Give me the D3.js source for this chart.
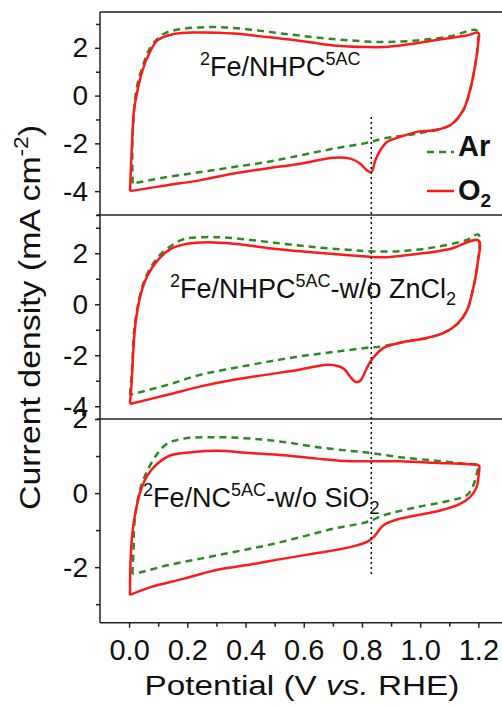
<!DOCTYPE html>
<html>
<head>
<meta charset="utf-8">
<script src="https://cdn.jsdelivr.net/npm/d3@7"></script>
<style>
  html, body { margin: 0; padding: 0; background: #ffffff; }
  svg { display: block; font-family: "Liberation Sans", Arial, sans-serif; }
</style>
</head>
<body>
<svg id="chart" width="502" height="706"></svg>
<script>
// ---------- data (potential V vs RHE, current density mA cm^-2) ----------
const potentialTicks = [0.0, 0.2, 0.4, 0.6, 0.8, 1.0, 1.2];
const potentialMinor = [0.1, 0.3, 0.5, 0.7, 0.9, 1.1];
const refPotential = 0.832;

const panelNames = ["2Fe/NHPC5AC", "2Fe/NHPC5AC-w/o ZnCl2", "2Fe/NC5AC-w/o SiO2"];
const panelDomains = [[-5, 3.5], [-4.5, 3.5], [-3.5, 2]];
const panelMajorTicks = [[-4, -2, 0, 2], [-4, -2, 0, 2], [-2, 0, 2]];
const panelMinorTicks = [[-5, -3, -1, 1, 3], [-3, -1, 1, 3], [-3, -1, 1]];

const fe5acO2 = [[0.003,-4.0],[0.009,-2.29],[0.017,-0.6],[0.029,0.22],[0.046,1.06],[0.069,1.76],[0.097,2.31],[0.143,2.55],[0.223,2.64],[0.36,2.6],[0.474,2.45],[0.589,2.29],[0.703,2.10],[0.817,2.03],[0.874,2.03],[0.931,2.1],[1.046,2.31],[1.16,2.52],[1.2,2.62],[1.199,2.17],[1.188,1.2],[1.171,0.22],[1.148,-0.61],[1.103,-1.24],[1.046,-1.45],[0.989,-1.52],[0.931,-1.73],[0.886,-1.94],[0.863,-2.29],[0.846,-2.71],[0.832,-3.2],[0.817,-3.13],[0.794,-2.85],[0.76,-2.64],[0.703,-2.6],[0.589,-2.85],[0.474,-3.05],[0.36,-3.26],[0.246,-3.54],[0.132,-3.75],[0.003,-4.0]];
const fe5acAr = [[0.012,-3.68],[0.011,-2.15],[0.017,-0.6],[0.029,0.5],[0.046,1.2],[0.074,2.03],[0.12,2.59],[0.189,2.8],[0.303,2.87],[0.417,2.76],[0.531,2.59],[0.646,2.43],[0.76,2.31],[0.874,2.24],[0.989,2.31],[1.103,2.48],[1.194,2.73],[1.198,2.17],[1.188,1.2],[1.171,0.22],[1.148,-0.61],[1.103,-1.24],[0.989,-1.59],[0.874,-1.8],[0.817,-1.98],[0.703,-2.22],[0.589,-2.5],[0.474,-2.78],[0.36,-2.99],[0.246,-3.2],[0.132,-3.41],[0.012,-3.68]];

const znO2 = [[0.003,-3.91],[0.009,-3.03],[0.015,-1.71],[0.023,-0.66],[0.04,0.39],[0.063,1.12],[0.097,1.71],[0.143,2.17],[0.2,2.37],[0.269,2.43],[0.36,2.37],[0.474,2.21],[0.589,2.08],[0.703,1.97],[0.817,1.87],[0.874,1.84],[0.989,1.97],[1.103,2.17],[1.2,2.5],[1.197,1.58],[1.18,0.52],[1.16,-0.26],[1.126,-0.79],[1.081,-1.12],[1.023,-1.32],[0.931,-1.51],[0.874,-1.71],[0.832,-2.2],[0.817,-2.5],[0.794,-3.0],[0.78,-3.05],[0.76,-2.85],[0.74,-2.55],[0.72,-2.43],[0.68,-2.37],[0.589,-2.56],[0.474,-2.76],[0.36,-2.96],[0.246,-3.22],[0.132,-3.55],[0.003,-3.91]];
const znAr = [[0.003,-3.55],[0.011,-2.37],[0.017,-1.05],[0.029,-0.13],[0.046,0.72],[0.074,1.44],[0.109,1.97],[0.155,2.37],[0.189,2.56],[0.303,2.63],[0.417,2.52],[0.531,2.37],[0.646,2.23],[0.76,2.13],[0.817,2.08],[0.931,2.08],[1.046,2.23],[1.16,2.52],[1.2,2.73],[1.197,1.58],[1.18,0.52],[1.16,-0.26],[1.126,-0.79],[1.081,-1.12],[1.023,-1.32],[0.931,-1.51],[0.874,-1.65],[0.817,-1.71],[0.703,-1.87],[0.589,-2.04],[0.474,-2.26],[0.36,-2.5],[0.246,-2.76],[0.132,-3.16],[0.003,-3.55]];

const siO2 = [[0.003,-2.75],[0.005,-1.82],[0.011,-1.1],[0.023,-0.47],[0.04,0.07],[0.063,0.48],[0.097,0.79],[0.143,1.02],[0.223,1.11],[0.303,1.14],[0.417,1.08],[0.531,1.02],[0.646,0.93],[0.76,0.86],[0.832,0.86],[0.931,0.86],[1.046,0.82],[1.2,0.75],[1.203,0.73],[1.2,0.43],[1.194,0.16],[1.171,-0.11],[1.137,-0.29],[1.069,-0.47],[0.989,-0.6],[0.931,-0.69],[0.874,-0.87],[0.84,-1.19],[0.817,-1.32],[0.76,-1.46],[0.646,-1.62],[0.531,-1.77],[0.417,-1.93],[0.303,-2.07],[0.189,-2.31],[0.074,-2.54],[0.003,-2.75]];
const siAr = [[0.011,-2.18],[0.016,-1.37],[0.017,-0.92],[0.029,-0.2],[0.04,0.16],[0.063,0.61],[0.097,1.06],[0.132,1.34],[0.189,1.47],[0.303,1.51],[0.417,1.47],[0.531,1.38],[0.646,1.24],[0.76,1.14],[0.832,1.08],[0.931,0.97],[1.046,0.88],[1.16,0.79],[1.2,0.75],[1.197,0.61],[1.18,0.16],[1.16,-0.06],[1.103,-0.2],[0.989,-0.38],[0.874,-0.6],[0.817,-0.78],[0.703,-0.96],[0.589,-1.19],[0.474,-1.41],[0.36,-1.59],[0.246,-1.77],[0.132,-1.95],[0.039,-2.14],[0.011,-2.18]];

const panelAr = [fe5acAr, znAr, siAr];
const panelO2 = [fe5acO2, znO2, siO2];

// ---------- layout ----------
const svg = d3.select("#chart");
const W = 502, H = 706;
const plotLeft = 100, plotTop = 12, plotBottom = 622.7;
const panelEdges = [12, 215, 419, 622.7];
const axisColor = "#222";
const redColor = "#ff1a1a";
const greenColor = "#2b8a22";

const x = d3.scaleLinear().domain([-0.1, 1.3]).range([plotLeft, 507.5]);
const ys = panelDomains.map((d, i) => d3.scaleLinear().domain(d).range([panelEdges[i + 1], panelEdges[i]]));

svg.append("rect").attr("width", W).attr("height", H).attr("fill", "#ffffff");

// curves
panelAr.forEach((arr, i) => {
  const line = d3.line().x(d => x(d[0])).y(d => ys[i](d[1])).curve(d3.curveCatmullRom.alpha(0.5));
  svg.append("path").datum(arr).attr("d", line)
    .attr("fill", "none").attr("stroke", greenColor).attr("stroke-width", 2.5)
    .attr("stroke-dasharray", "7,5");
  svg.append("path").datum(panelO2[i]).attr("d", line)
    .attr("fill", "none").attr("stroke", redColor).attr("stroke-width", 2.5);
});

// dotted reference line
svg.append("line")
  .attr("x1", x(refPotential)).attr("x2", x(refPotential))
  .attr("y1", ys[0](-0.9)).attr("y2", ys[2](-2.25))
  .attr("stroke", "#111").attr("stroke-width", 1.5).attr("stroke-dasharray", "2,3");

// frame lines
svg.append("line").attr("x1", plotLeft).attr("x2", W).attr("y1", plotTop).attr("y2", plotTop)
  .attr("stroke", axisColor).attr("stroke-width", 1.5);
[215, 419].forEach(yy => {
  svg.append("line").attr("x1", 97).attr("x2", W).attr("y1", yy).attr("y2", yy)
    .attr("stroke", axisColor).attr("stroke-width", 1.5);
});

// y axes
ys.forEach((y, i) => {
  const g = svg.append("g").attr("transform", `translate(${plotLeft},0)`);
  g.call(d3.axisLeft(y).tickValues(panelMajorTicks[i]).tickSize(5).tickPadding(7).tickFormat(d3.format("d")));
  g.select(".domain").remove();
  g.selectAll("line").attr("stroke", axisColor).attr("stroke-width", 1.5);
  g.selectAll("text").attr("font-size", 28).attr("fill", "#111")
    .attr("font-family", "Liberation Sans, Arial, sans-serif")
    .text(d => d < 0 ? "-" + Math.abs(d) : d);
  const gm = svg.append("g").attr("transform", `translate(${plotLeft},0)`);
  gm.call(d3.axisLeft(y).tickValues(panelMinorTicks[i]).tickSize(4).tickFormat(""));
  gm.select(".domain").remove();
  gm.selectAll("line").attr("stroke", axisColor).attr("stroke-width", 1.5);
});
svg.append("line").attr("x1", plotLeft).attr("x2", plotLeft).attr("y1", plotTop).attr("y2", plotBottom)
  .attr("stroke", axisColor).attr("stroke-width", 1.5);

// x axis
const gx = svg.append("g").attr("transform", `translate(0,${plotBottom})`);
gx.call(d3.axisBottom(x).tickValues(potentialTicks).tickSize(5).tickPadding(12).tickFormat(d3.format(".1f")));
gx.select(".domain").remove();
gx.selectAll("line").attr("stroke", axisColor).attr("stroke-width", 1.5);
gx.selectAll("text").attr("font-size", 29).attr("fill", "#111")
  .attr("font-family", "Liberation Sans, Arial, sans-serif");
const gxm = svg.append("g").attr("transform", `translate(0,${plotBottom})`);
gxm.call(d3.axisBottom(x).tickValues(potentialMinor).tickSize(4).tickFormat(""));
gxm.select(".domain").remove();
gxm.selectAll("line").attr("stroke", axisColor).attr("stroke-width", 1.5);
svg.append("line").attr("x1", plotLeft).attr("x2", W).attr("y1", plotBottom).attr("y2", plotBottom)
  .attr("stroke", axisColor).attr("stroke-width", 1.5);

// helper to stretch text along its direction
function stretch(sel, target, cx, cy, rotate) {
  const len = sel.node().getComputedTextLength();
  const s = target / len;
  sel.attr("transform", `translate(${cx},${cy}) rotate(${rotate}) scale(${s},1)`);
}

// x title
const xt = svg.append("text").attr("font-size", 27).attr("fill", "#111").attr("text-anchor", "middle");
xt.append("tspan").text("Potential (V ");
xt.append("tspan").attr("font-style", "italic").text("vs.");
xt.append("tspan").text(" RHE)");
stretch(xt, 315, 302, 695, 0);

// y title
const yt = svg.append("text").attr("font-size", 30).attr("fill", "#111").attr("text-anchor", "middle");
yt.append("tspan").text("Current density (mA cm");
yt.append("tspan").attr("font-size", 20).attr("dy", -12).text("-2");
yt.append("tspan").attr("dy", 12).text(")");
stretch(yt, 385, 40, 317.5, -90);

// panel labels
function panelLabel(xx, yy, parts) {
  const t = svg.append("text").attr("x", xx).attr("y", yy).attr("fill", "#111").attr("font-size", 27);
  let shift = 0;
  parts.forEach(p => {
    const sp = t.append("tspan").text(p.t);
    let target = 0;
    if (p.k === "sup") { sp.attr("font-size", 18); target = -11; }
    else if (p.k === "sub") { sp.attr("font-size", 18); target = 7; }
    if (target !== shift) { sp.attr("dy", target - shift); shift = target; }
  });
}
panelLabel(200, 76, [{t: "2", k: "sup"}, {t: "Fe/NHPC"}, {t: "5AC", k: "sup"}]);
panelLabel(170, 298, [{t: "2", k: "sup"}, {t: "Fe/NHPC"}, {t: "5AC", k: "sup"}, {t: "-w/o ZnCl"}, {t: "2", k: "sub"}]);
panelLabel(143, 507, [{t: "2", k: "sup"}, {t: "Fe/NC"}, {t: "5AC", k: "sup"}, {t: "-w/o SiO"}, {t: "2", k: "sub"}]);

// legend
svg.append("line").attr("x1", 427).attr("x2", 454).attr("y1", 152).attr("y2", 152)
  .attr("stroke", greenColor).attr("stroke-width", 2.5).attr("stroke-dasharray", "7,5");
svg.append("text").attr("x", 458).attr("y", 156).attr("font-size", 29).attr("font-weight", "bold")
  .attr("fill", "#111").text("Ar");
svg.append("line").attr("x1", 427).attr("x2", 454).attr("y1", 191).attr("y2", 191)
  .attr("stroke", redColor).attr("stroke-width", 2.5);
const o2 = svg.append("text").attr("x", 458).attr("y", 199.5).attr("font-size", 29).attr("font-weight", "bold").attr("fill", "#111");
o2.append("tspan").text("O");
o2.append("tspan").attr("font-size", 19).attr("dy", 7).text("2");
</script>
</body>
</html>
